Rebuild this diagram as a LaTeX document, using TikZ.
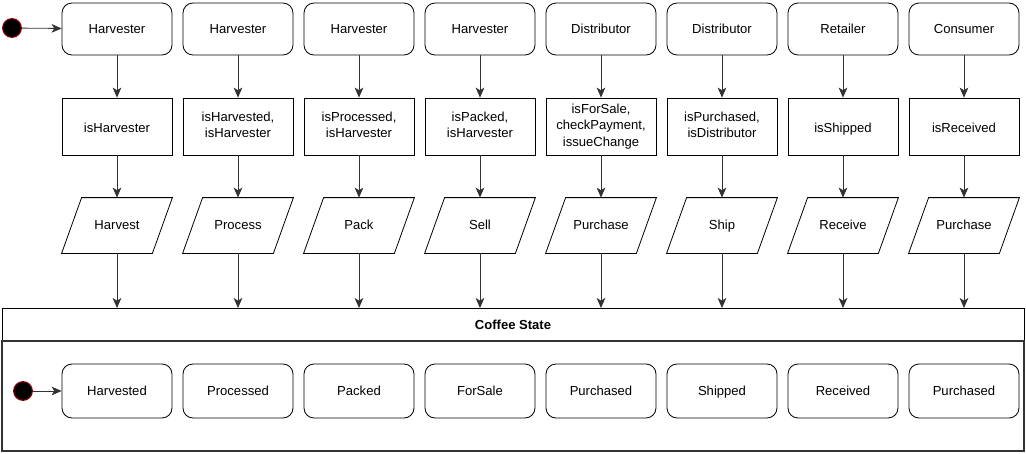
\documentclass[tikz,border=0pt]{standalone}
\usepackage{fontspec}
\setmainfont{Liberation Sans}
\usetikzlibrary{arrows.meta,calc}
\begin{document}
\begin{tikzpicture}[x=0.75pt,y=-0.75pt,
  font=\fontsize{9.8}{12.3}\selectfont,
  fixt/.style={text height=7.5pt,text depth=1pt},
  actor/.style={draw,fixt,rounded corners=7.5pt,minimum width=82.5pt,minimum height=39pt,inner sep=0pt,align=center},
  guard/.style={draw,minimum width=82.5pt,minimum height=42.75pt,inner sep=0pt,align=center,
    execute at begin node={\rule{0pt}{10.5pt}},execute at end node={\rule[-2.2pt]{0pt}{2.2pt}}},
  act/.style={fixt,minimum width=82.5pt,minimum height=41.25pt,inner sep=0pt,align=center},
  state/.style={draw,fixt,rounded corners=7.5pt,minimum width=82.5pt,minimum height=40.5pt,inner sep=0pt,align=center},
  startdot/.style={circle,fill=black,draw=red!50!black,line width=0.9pt,minimum size=14pt,inner sep=0pt},
  flow/.style={draw=black!80,line width=0.6pt,-{Stealth[length=7.5pt,width=6.5pt,inset=2pt]}},
  every node/.style={line width=0.6pt}]
\useasboundingbox (0,0) rectangle (1026,454);
% container
\draw[line width=0.6pt] (2,308) rectangle (1024,341);
\draw[line width=1.4pt,draw=black!80] (2,341) rectangle (1024,451);
\node[fixt,font=\fontsize{9.8}{12.3}\selectfont\bfseries] (cs) at (513,325) {Coffee State};
% columns
\foreach \i/\x/\a/\g/\p/\s in {
  1/117/Harvester/isHarvester/Harvest/Harvested,
  2/238/Harvester/{isHarvested,\\isHarvester}/Process/Processed,
  3/359/Harvester/{isProcessed,\\isHarvester}/Pack/Packed,
  4/480/Harvester/{isPacked,\\isHarvester}/Sell/ForSale,
  5/601/Distributor/{isForSale,\\checkPayment,\\issueChange}/Purchase/Purchased,
  6/722/Distributor/{isPurchased,\\isDistributor}/Ship/Shipped,
  7/843/Retailer/isShipped/Receive/Received,
  8/964/Consumer/isReceived/Purchase/Purchased}{
  \node[actor] (a\i) at (\x,29) {\a};
  \node[guard] (g\i) at (\x,126.5) {\g};
  \node[act] (p\i) at (\x,225.5) {\p};
  \draw[line width=0.6pt] ([xshift=15pt]p\i.north west) -- (p\i.north east)
     -- ([xshift=-15pt]p\i.south east) -- (p\i.south west) -- cycle;
  \coordinate (h\i) at (\x,308);
  \node[state] (s\i) at (\x,391) {\s};
  \draw[flow] (a\i) -- (g\i);
  \draw[flow] (g\i) -- (p\i);
  \draw[flow] (p\i.south) -- (h\i);
}
\node[startdot] (st1) at (12,28) {};
\node[startdot] (st2) at (23,391) {};
\draw[flow] (st1) -- (a1);
\draw[flow] (st2) -- (s1);
\end{tikzpicture}
\end{document}
